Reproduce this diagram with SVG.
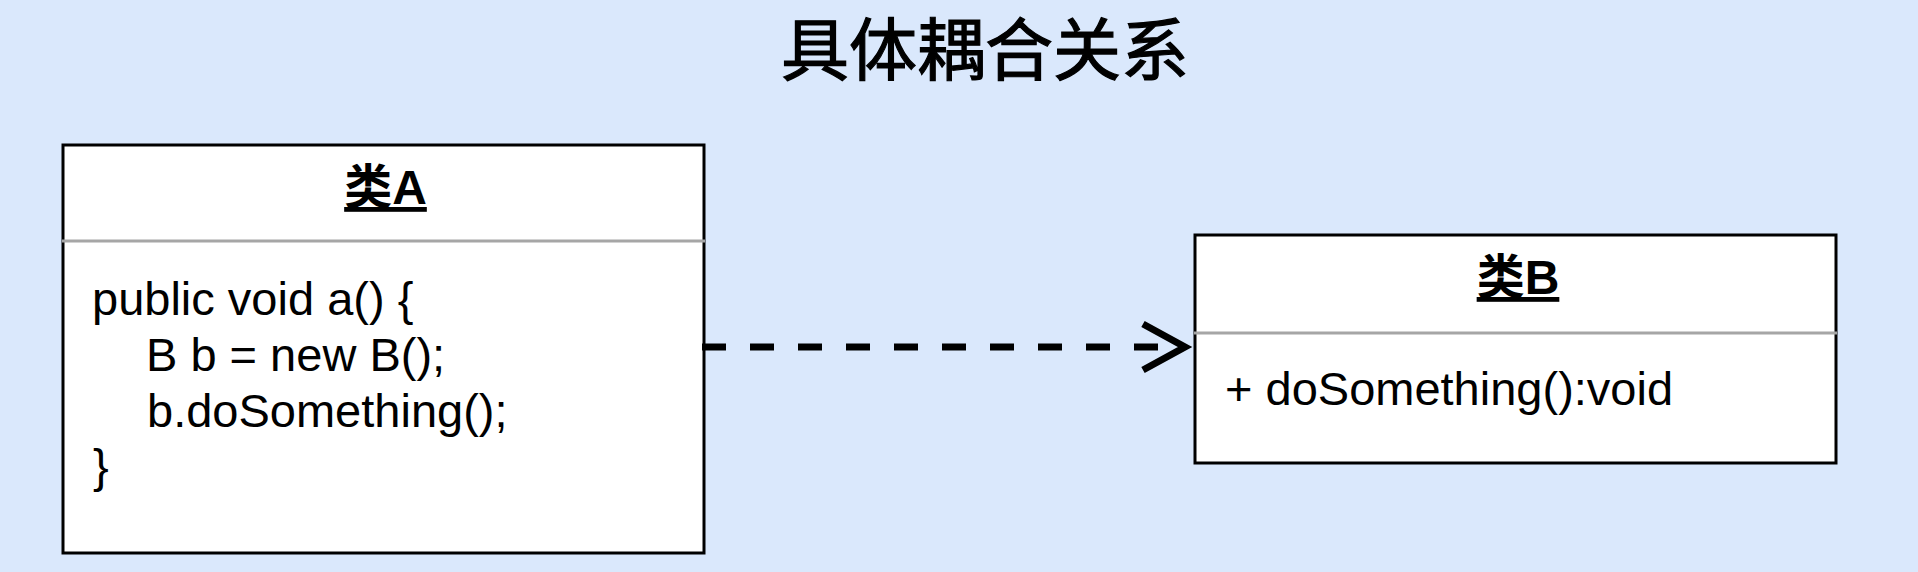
<svg xmlns="http://www.w3.org/2000/svg" width="1918" height="572" viewBox="0 0 1918 572">
  <style>
    .box { fill: #ffffff; stroke: #000000; stroke-width: 3; }
    .divider { stroke: #a6a6a6; stroke-width: 3; }
    .hdr { font-family: "Liberation Sans", "Noto Sans CJK SC", sans-serif; font-size: 48px; font-weight: bold; fill: #000; text-anchor: middle; text-decoration: underline; }
    .body { font-family: "Liberation Sans", "Noto Sans CJK SC", sans-serif; font-size: 47px; fill: #000; }
    .title { font-family: "Noto Sans CJK SC", sans-serif; font-size: 68px; font-weight: normal; fill: #000; stroke: #000; stroke-width: 1.2; text-anchor: middle; }
    .conn { fill: none; stroke: #000; stroke-width: 7; }
  </style>
  <rect x="0" y="0" width="1918" height="572" fill="#dae8fc"/>
  <text class="title" x="985" y="75">具体耦合关系</text>

  <g id="classA">
    <rect class="box" x="63" y="145" width="641" height="408"/>
    <line class="divider" x1="62" y1="241" x2="705" y2="241"/>
    <text class="hdr" x="385.5" y="204">类A</text>
    <text class="body" x="92" y="315">public void a() {</text>
    <text class="body" x="146" y="370.5">B b = new B();</text>
    <text class="body" x="147" y="426.5">b.doSomething();</text>
    <text class="body" x="93" y="482">}</text>
  </g>

  <g id="classB">
    <rect class="box" x="1195" y="235" width="641" height="228"/>
    <line class="divider" x1="1194" y1="333" x2="1837" y2="333"/>
    <text class="hdr" x="1518" y="294">类B</text>
    <text class="body" x="1225" y="405">+ doSomething():void</text>
  </g>

  <g id="connectors">
    <line class="conn" x1="702" y1="347" x2="1170" y2="347" stroke-dasharray="24 24"/>
    <polyline class="conn" points="1143,324 1185,347 1143,370"/>
  </g>
</svg>
